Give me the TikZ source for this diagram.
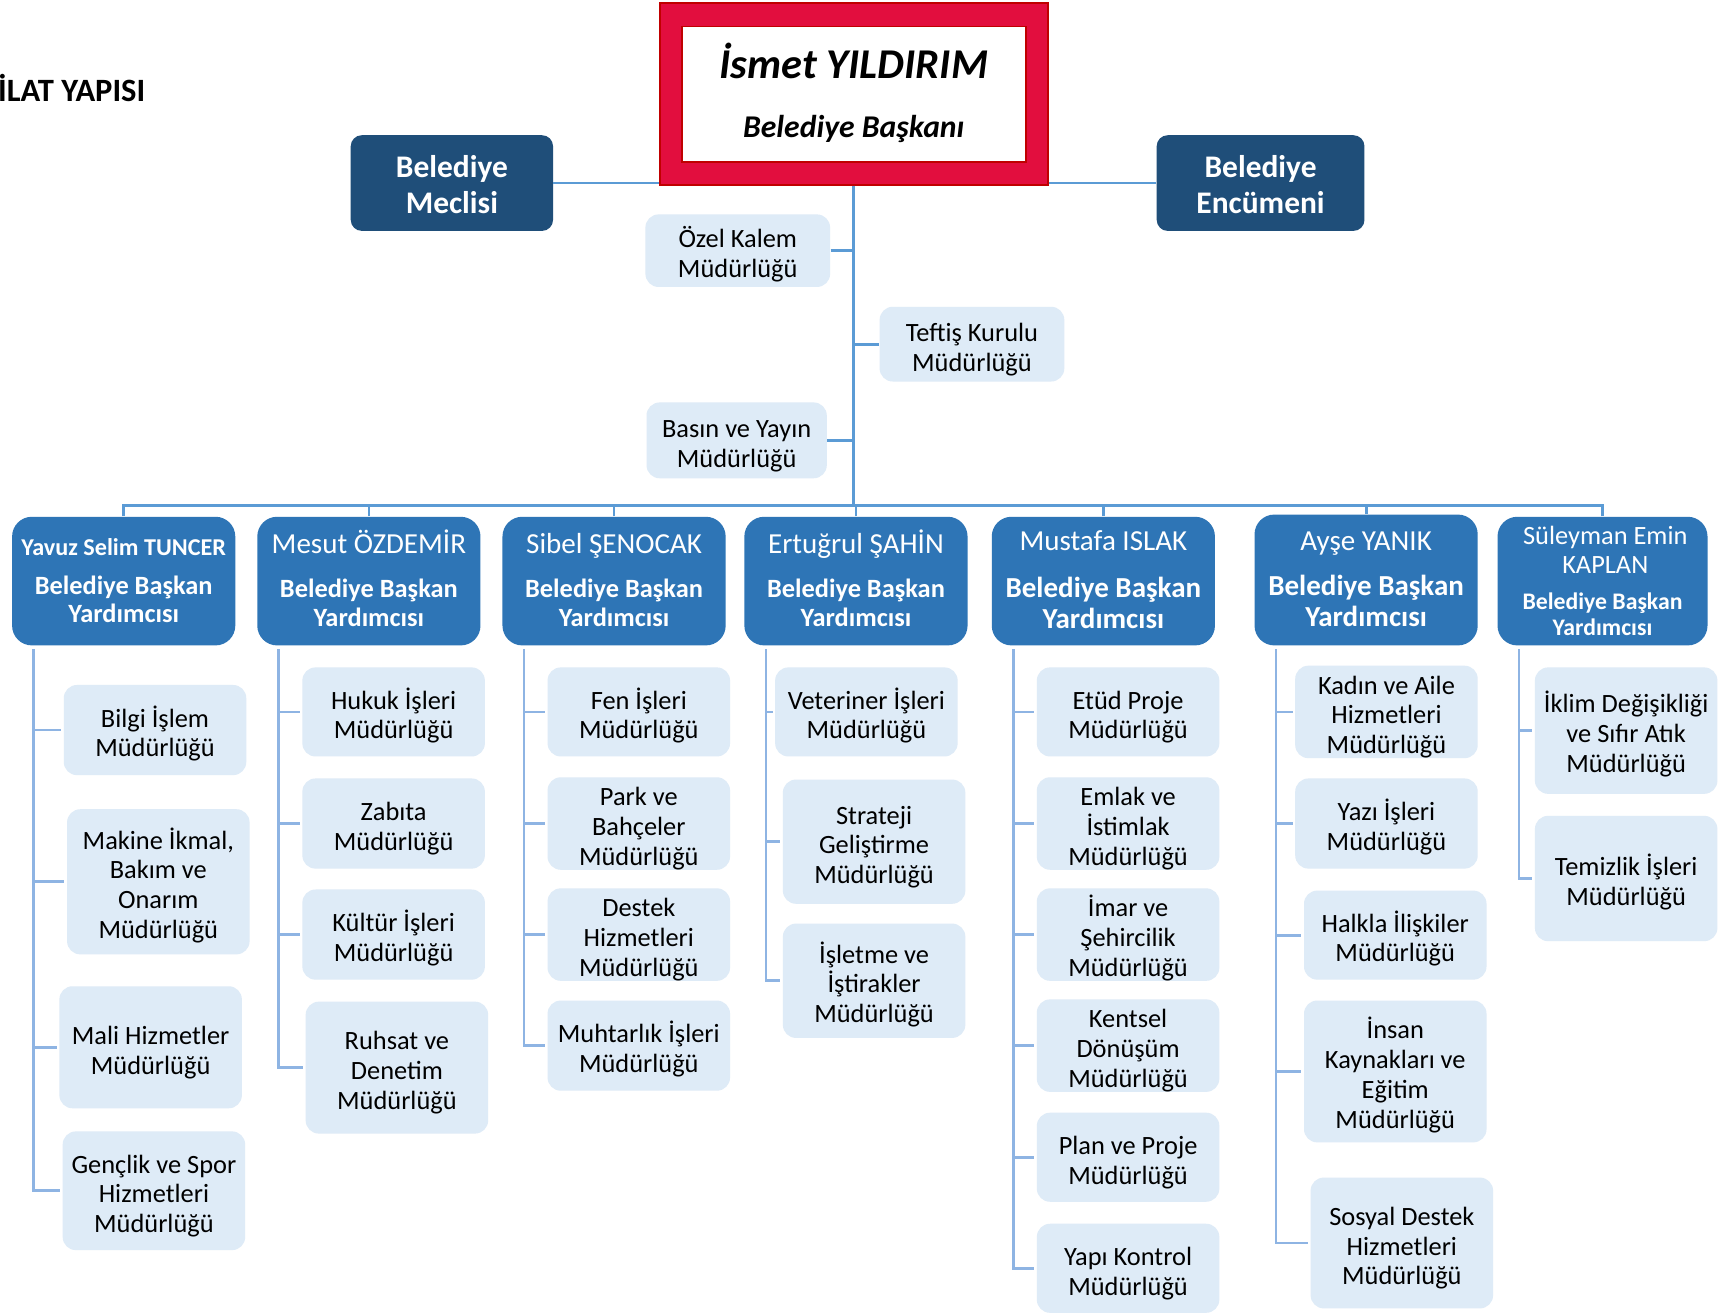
\documentclass[tikz,border=0pt]{standalone}
\usepackage{fontspec}
\setmainfont{Carlito}
\usetikzlibrary{backgrounds}
\definecolor{lightbox}{HTML}{DEEBF7}
\definecolor{vpblue}{HTML}{2E75B6}
\definecolor{darkblue}{HTML}{1F4E79}
\definecolor{connblue}{HTML}{5B9BD5}
\definecolor{subblue}{HTML}{8EB4E3}
\definecolor{mayorred}{HTML}{E20E3E}
\definecolor{mayordark}{HTML}{C00000}
\newcommand\subbox[6]{\node[sub, minimum width=#4pt, minimum height=#5pt] (#1) at (#2,#3) {\rule{0pt}{13pt}#6};}
\newcommand\vpbox[2]{\node[vp] (#1) at #2 {};}
\begin{document}
\begin{tikzpicture}[x=0.5pt,y=-0.5pt,
  sub/.style={fill=lightbox, rounded corners=6pt, inner sep=0pt, align=center, font=\fontsize{12}{13.5}\selectfont, text=black},
  vp/.style={fill=vpblue, rounded corners=9pt, inner sep=0pt, minimum width=101.5pt, minimum height=58.5pt},
  lbl/.style={inner sep=0pt, text height=0.644em, text depth=0pt, anchor=center},
  vplbl/.style={lbl, text=white, yshift=-1pt},
  council/.style={fill=darkblue, rounded corners=5pt, inner sep=0pt, text=white, align=center, font=\bfseries\fontsize{14.3}{16.5}\selectfont, minimum height=43.5pt},
  conn/.style={draw=connblue, line width=1.25pt},
  subconn/.style={draw=subblue, line width=1.25pt},
]
\fill[white] (0,0) rectangle (1568,1194);
\useasboundingbox (0,0) rectangle (1568,1194);

% title fragment
\node[lbl, anchor=west, font=\bfseries\fontsize{14.8}{17}\selectfont] (title) at (-2,86) {İLAT YAPISI};

% mayor
\node[fill=mayorred, draw=mayordark, line width=0.8pt, minimum width=176.5pt, minimum height=82.5pt, inner sep=0pt] (mayor) at (776.5,85.5) {};
\node[fill=white, draw=mayordark, line width=0.8pt, minimum width=156.5pt, minimum height=61.5pt, inner sep=0pt] (mayorin) at (776.5,85.5) {};
\node[lbl, font=\bfseries\itshape\fontsize{19.3}{22}\selectfont] (mname) at (776.5,65) {İsmet YILDIRIM};
\node[lbl, font=\bfseries\itshape\fontsize{14.4}{16}\selectfont] (mrole) at (776.5,119) {Belediye Başkanı};

% council
\node[council, minimum width=92pt] (mec) at (411,166.5) {\rule{0pt}{11.5pt}Belediye\\Meclisi};
\node[council, minimum width=94.5pt] (enc) at (1146.5,166.5) {\rule{0pt}{11.5pt}Belediye\\Encümeni};

% staff units
\subbox{ozel}{671}{228}{84}{33}{Özel Kalem\\Müdürlüğü}
\subbox{teftis}{884}{313}{84}{34}{Teftiş Kurulu\\Müdürlüğü}
\subbox{basin}{670}{400.5}{82}{34.5}{Basın ve Yayın\\Müdürlüğü}

% deputy mayors
\vpbox{v1}{(112.5,528.5)}
\vpbox{v2}{(335.5,528.5)}
\vpbox{v3}{(558.5,528.5)}
\vpbox{v4}{(778.5,528.5)}
\vpbox{v5}{(1003.5,528.5)}
\node[vp, minimum height=59.5pt] (v6) at (1242.5,527.5) {};
\node[vp, minimum width=95.5pt] (v7) at (1457.5,528.5) {};

\node[vplbl, font=\bfseries\fontsize{11}{13}\selectfont] (v1n) at (112.5,497) {Yavuz Selim TUNCER};
\node[vplbl, font=\bfseries\fontsize{12}{13}\selectfont] (v1a) at (112.5,532) {Belediye Başkan};
\node[vplbl, font=\bfseries\fontsize{12}{13}\selectfont] (v1b) at (112.5,558) {Yardımcısı};

\node[vplbl, font=\fontsize{13.2}{15}\selectfont] (v2n) at (335.5,495) {Mesut ÖZDEMİR};
\node[vplbl, font=\bfseries\fontsize{12}{13}\selectfont] (v2a) at (335.5,535) {Belediye Başkan};
\node[vplbl, font=\bfseries\fontsize{12}{13}\selectfont] (v2b) at (335.5,561) {Yardımcısı};

\node[vplbl, font=\fontsize{13.2}{15}\selectfont] (v3n) at (558.5,495) {Sibel ŞENOCAK};
\node[vplbl, font=\bfseries\fontsize{12}{13}\selectfont] (v3a) at (558.5,535) {Belediye Başkan};
\node[vplbl, font=\bfseries\fontsize{12}{13}\selectfont] (v3b) at (558.5,561) {Yardımcısı};

\node[vplbl, font=\fontsize{13.2}{15}\selectfont] (v4n) at (778.5,495) {Ertuğrul ŞAHİN};
\node[vplbl, font=\bfseries\fontsize{12}{13}\selectfont] (v4a) at (778.5,535) {Belediye Başkan};
\node[vplbl, font=\bfseries\fontsize{12}{13}\selectfont] (v4b) at (778.5,561) {Yardımcısı};

\node[vplbl, font=\fontsize{13.2}{15}\selectfont] (v5n) at (1003.5,492) {Mustafa ISLAK};
\node[vplbl, font=\bfseries\fontsize{13.2}{15}\selectfont] (v5a) at (1003.5,535) {Belediye Başkan};
\node[vplbl, font=\bfseries\fontsize{13.2}{15}\selectfont] (v5b) at (1003.5,563) {Yardımcısı};

\node[vplbl, font=\fontsize{13.2}{15}\selectfont] (v6n) at (1242.5,492) {Ayşe YANIK};
\node[vplbl, font=\bfseries\fontsize{13.2}{15}\selectfont] (v6a) at (1242.5,533) {Belediye Başkan};
\node[vplbl, font=\bfseries\fontsize{13.2}{15}\selectfont] (v6b) at (1242.5,561) {Yardımcısı};

\node[vplbl, font=\fontsize{12}{13}\selectfont] (v7n) at (1460,487) {Süleyman Emin};
\node[vplbl, font=\fontsize{12}{13}\selectfont] (v7m) at (1460,513) {KAPLAN};
\node[vplbl, font=\bfseries\fontsize{10.8}{12}\selectfont] (v7a) at (1457.5,546) {Belediye Başkan};
\node[vplbl, font=\bfseries\fontsize{10.8}{12}\selectfont] (v7b) at (1457.5,570) {Yardımcısı};

% directorates
\subbox{s11}{141}{664}{83}{41}{Bilgi İşlem\\Müdürlüğü}
\subbox{s12}{144}{802}{83}{66}{Makine İkmal,\\Bakım ve\\Onarım\\Müdürlüğü}
\subbox{s13}{137}{952.5}{83}{55.5}{Mali Hizmetler\\Müdürlüğü}
\subbox{s14}{140}{1083}{83}{54}{Gençlik ve Spor\\Hizmetleri\\Müdürlüğü}

\subbox{s21}{358}{647.5}{83}{40.5}{Hukuk İşleri\\Müdürlüğü}
\subbox{s22}{358}{749}{83}{41}{Zabıta\\Müdürlüğü}
\subbox{s23}{358}{850}{83}{41}{Kültür İşleri\\Müdürlüğü}
\subbox{s24}{361}{971}{83}{60}{Ruhsat ve\\Denetim\\Müdürlüğü}

\subbox{s31}{581}{647.5}{83}{40.5}{Fen İşleri\\Müdürlüğü}
\subbox{s32}{581}{749}{83}{41}{Park ve\\Bahçeler\\Müdürlüğü}
\subbox{s33}{581}{850}{83}{41}{Destek\\Hizmetleri\\Müdürlüğü}
\subbox{s34}{581}{951}{83}{41}{Muhtarlık İşleri\\Müdürlüğü}

\subbox{s41}{788}{647.5}{83}{40.5}{Veteriner İşleri\\Müdürlüğü}
\subbox{s42}{795}{765.5}{83}{56.5}{Strateji\\Geliştirme\\Müdürlüğü}
\subbox{s43}{795}{892}{83}{52}{İşletme ve\\İştirakler\\Müdürlüğü}

\subbox{s51}{1026}{647.5}{83}{40.5}{Etüd Proje\\Müdürlüğü}
\subbox{s52}{1026}{749}{83}{41}{Emlak ve\\İstimlak\\Müdürlüğü}
\subbox{s53}{1026}{850}{83}{41}{İmar ve\\Şehircilik\\Müdürlüğü}
\subbox{s54}{1026}{951}{83}{41}{Kentsel\\Dönüşüm\\Müdürlüğü}
\subbox{s55}{1026}{1052.5}{83}{40.5}{Plan ve Proje\\Müdürlüğü}
\subbox{s56}{1026}{1153.5}{83}{40.5}{Yapı Kontrol\\Müdürlüğü}

\subbox{s61}{1261}{647.5}{83}{40.5}{Kadın ve Aile\\Hizmetleri\\Müdürlüğü}
\subbox{s62}{1261}{749}{83}{41}{Yazı İşleri\\Müdürlüğü}
\subbox{s63}{1269}{850.5}{83}{40.5}{Halkla İlişkiler\\Müdürlüğü}
\subbox{s64}{1269}{974.5}{83}{64.5}{İnsan\\Kaynakları ve\\Eğitim\\Müdürlüğü}
\subbox{s65}{1275}{1130.5}{83}{59.5}{Sosyal Destek\\Hizmetleri\\Müdürlüğü}

\subbox{s71}{1479}{664.5}{83}{57.5}{İklim Değişikliği\\ve Sıfır Atık\\Müdürlüğü}
\subbox{s72}{1479}{799}{83}{57}{Temizlik İşleri\\Müdürlüğü}

% square bottom corners
\begin{scope}[on background layer]
\foreach \n in {ozel,teftis,basin,s11,s12,s13,s14,s21,s22,s23,s24,s31,s32,s33,s34,s41,s42,s43,s51,s52,s53,s54,s55,s56,s61,s62,s63,s64,s65,s71,s72}
  \fill[lightbox] (\n.west) rectangle (\n.south east);
\fill[darkblue] (mec.west) rectangle (mec.south east);
\fill[darkblue] (enc.west) rectangle (enc.south east);
\end{scope}

% top connectors
\coordinate (bus) at (776.5,460);
\draw[conn] (mec.east) -- (mec.east -| mayor.west);
\draw[conn] (enc.west) -- (enc.west -| mayor.east);
\draw[conn] (mayor.south) -- (bus);
\draw[conn] (ozel.east) -- (ozel.east -| bus);
\draw[conn] (teftis.west) -- (teftis.west -| bus);
\draw[conn] (basin.east) -- (basin.east -| bus);
\foreach \v in {v1,v2,v3,v4,v5,v6,v7}
  \draw[conn] (\v.north) |- (bus);

% deputy branches
\foreach \v/\list in {v1/{s11,s12,s13,s14}, v2/{s21,s22,s23,s24}, v3/{s31,s32,s33,s34}, v4/{s41,s42,s43}, v5/{s51,s52,s53,s54,s55,s56}, v6/{s61,s62,s63,s64,s65}, v7/{s71,s72}}
  \foreach \c in \list
    \draw[subconn] ([xshift=10pt,yshift=-1.5pt]\v.south west) |- ([xshift=-1pt]\c.west);
\end{tikzpicture}
\end{document}
